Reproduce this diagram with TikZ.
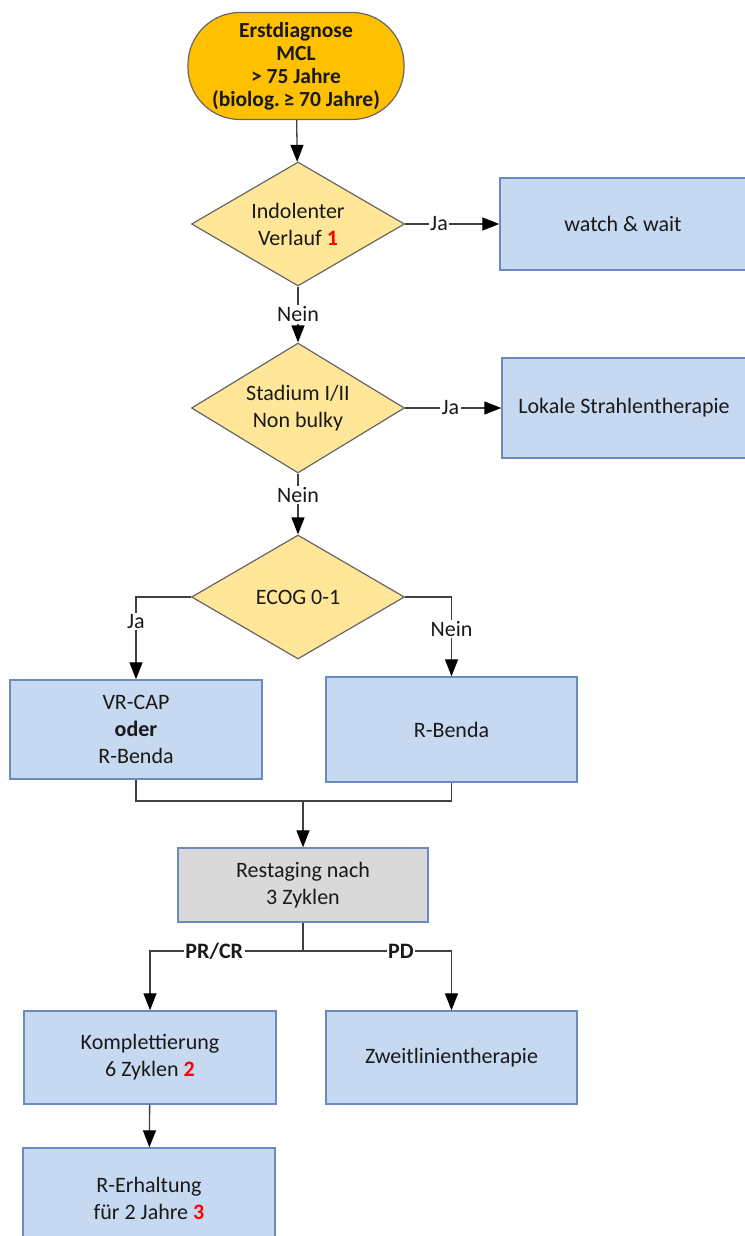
\documentclass[tikz,border=0pt]{standalone}
\usepackage{fontspec}
\setmainfont{Carlito}
\usetikzlibrary{shapes.geometric,arrows.meta}

% Colours taken from the flowchart
\definecolor{startfill}{HTML}{FFC000}
\definecolor{askfill}{HTML}{FFE699}
\definecolor{boxfill}{HTML}{C6D9F1}
\definecolor{boxline}{HTML}{6A8BBD}
\definecolor{greyfill}{HTML}{D9D9D9}
\definecolor{wire}{HTML}{404040}

\tikzset{
    startbox/.style={draw=wire!80, fill=startfill, rounded corners=52pt, line width=1.2pt,
        minimum width=216pt, minimum height=107pt, align=center, font=\fontsize{21.5}{23}\selectfont\bfseries},
    askbox/.style={diamond, draw=wire!80, fill=askfill, line width=1.2pt, aspect=1.65,
        minimum width=213pt, minimum height=124pt, inner sep=0pt, align=center},
    therapybox/.style={draw=boxline, fill=boxfill, line width=1.4pt, align=center},
    restagebox/.style={therapybox, fill=greyfill},
    flow/.style={draw=wire, line width=1.3pt},
    arrow/.style={flow, -{Triangle[length=17pt,width=13pt,color=black]}},
    lbl/.style={fill=white, inner sep=1.5pt},
}
\newcommand{\refno}[1]{\textcolor{red}{\textbf{#1}}}

\begin{document}
\begin{tikzpicture}[x=1pt, y=-1pt, font=\fontsize{22}{27}\selectfont, text=black!90]

    % Fix the page to the size of the reference
    \useasboundingbox (0,0) rectangle (744,1236);

    % Merge and split points of the lower connectors
    \coordinate (merge) at (303, 801);
    \coordinate (split) at (303, 951);

    % Start of the chart
    \node[startbox] (start) at (296, 66) {Erstdiagnose\\MCL\\> 75 Jahre\\(biolog.\,≥ 70 Jahre)};

    % The three questions
    \node[askbox] (indolent) at (298, 224) {Indolenter\\Verlauf \refno{1}};
    \node[askbox, minimum height=130pt] (stadium) at (298, 408) {Stadium I/II\\Non bulky};
    \node[askbox] (ecog) at (298, 597) {ECOG 0-1};

    % Boxes on the right of the first two questions
    \node[therapybox, minimum width=246pt, minimum height=92pt] (wait) at (623, 224) {watch \& wait};
    \node[therapybox, minimum width=244pt, minimum height=100pt] (radio) at (624, 408) {Lokale Strahlentherapie};

    % First-line therapy
    \node[therapybox, minimum width=252pt, minimum height=99pt] (vrcap) at (136, 729.5) {VR-CAP\\\textbf{oder}\\R-Benda};
    \node[therapybox, minimum width=251pt, minimum height=105pt] (benda) at (451.5, 729.5) {R-Benda};

    % Restaging
    \node[restagebox, minimum width=250pt, minimum height=74pt] (restage) at (303, 885) {Restaging nach\\3 Zyklen};

    % After restaging
    \node[therapybox, minimum width=252pt, minimum height=93pt] (complete) at (150, 1057.5) {Komplettierung\\6 Zyklen \refno{2}};
    \node[therapybox, minimum width=251pt, minimum height=93pt] (second) at (451.5, 1057.5) {Zweitlinientherapie};
    \node[therapybox, minimum width=252pt, minimum height=100pt] (maintain) at (149, 1198) {R-Erhaltung\\für 2 Jahre \refno{3}};

    % Connectors down the middle
    \draw[arrow] (start) -- (indolent);
    \draw[arrow] (indolent) -- node[lbl] {Nein} (stadium);
    \draw[arrow] (stadium) -- node[lbl, pos=.35] {Nein} (ecog);

    % Connectors to the right
    \draw[arrow] (indolent.east) -- node[lbl, pos=.36] {Ja} (wait.west);
    \draw[arrow] (stadium.east) -- node[lbl, pos=.47] {Ja} (radio.west);

    % Branches of the ECOG question
    \draw[arrow] (ecog.west) -| node[lbl, pos=.65] {Ja} (vrcap.north);
    \draw[arrow] (ecog.east) -| node[lbl, pos=.7] {Nein} (benda.north);

    % Both therapies lead to restaging
    \draw[flow] (vrcap.south) |- (merge);
    \draw[flow] (benda.south) |- (merge);
    \draw[arrow] (merge) -- (restage);

    % Outcome of restaging
    \draw[flow] (restage) -- (split);
    \draw[arrow] (split) -| node[lbl, pos=.29, font=\fontsize{22}{24}\selectfont\bfseries] {PR/CR} (complete.north);
    \draw[arrow] (split) -| node[lbl, pos=.33, font=\fontsize{22}{24}\selectfont\bfseries] {PD} (second.north);
    \draw[arrow] (complete) -- (maintain);

\end{tikzpicture}
\end{document}
